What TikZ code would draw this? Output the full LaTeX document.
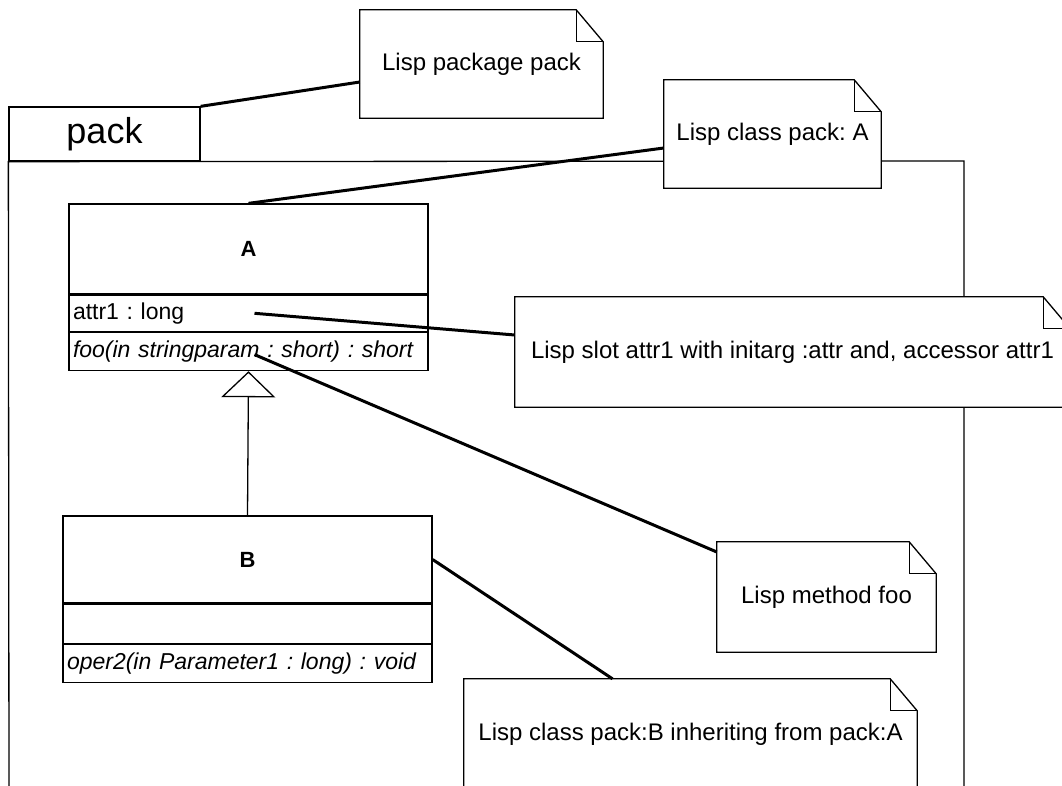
\documentclass[tikz,border=0pt]{standalone}
\usepackage{fontspec}
\setmainfont{Liberation Sans}
\usetikzlibrary{arrows.meta}
\frenchspacing

% outline of a UML note with a folded top-right corner
\newcommand{\dogear}[1]{%
  \draw[boxline] (#1.north west) -- ([xshift=-27pt]#1.north east)
    -- ([yshift=-32pt]#1.north east) -- (#1.south east) -- (#1.south west) -- cycle;
  \draw[boxline] ([xshift=-27pt]#1.north east) |- ([yshift=-32pt]#1.north east);
}

\begin{document}
\begin{tikzpicture}[x=1pt,y=-1pt,
  boxline/.style={line width=1.3pt, line join=miter},
  link/.style={line width=3pt},
  notebox/.style={fill=white, draw=none, inner sep=0pt, font=\fontsize{24}{28}\selectfont},
  classname/.style={draw, boxline, fill=white, inner sep=0pt, font=\bfseries\fontsize{22}{26}\selectfont},
  member/.style={draw, boxline, fill=white, inner xsep=4pt, inner ysep=0pt, align=left, font=\fontsize{23}{26}\selectfont},
  operation/.style={member, font=\itshape\fontsize{23}{26}\selectfont},
  inherit/.style={boxline, -{Triangle[open, length=26pt, width=54pt, line width=1.3pt]}}]

\useasboundingbox (0,0) rectangle (1062,786);
\clip (0,0) rectangle (1062,786);
\fill[white] (0,0) rectangle (1062,786);

% package pack: tab and body
\node[draw, boxline, minimum width=191pt, minimum height=54pt, inner sep=0pt,
      font=\fontsize{36}{40}\selectfont] (pack) at (104.5,134) {pack};
\draw[boxline] (9,800) -- (pack.south west) -- (964,161) -- (964,800);

% class A
\node[classname, minimum width=359pt, minimum height=90pt] (Aname) at (248.5,249) {A};
\node[member, text width=351pt, minimum height=36pt, anchor=north] (Aattr) at (Aname.south) {attr1 : long};
\node[operation, text width=351pt, minimum height=38pt, anchor=north] (Aops) at (Aattr.south) {foo(in stringparam : short) : short};

% class B
\node[classname, minimum width=369pt, minimum height=87pt] (Bname) at (247.5,559.5) {B};
\node[member, text width=361pt, minimum height=39pt, anchor=north] (Battr) at (Bname.south) {};
\node[operation, text width=361pt, minimum height=38pt, anchor=north] (Bops) at (Battr.south) {oper2(in Parameter1 : long) : void};

% generalization B -> A
\draw[inherit] (Bname.north) -- (Aops.south);

% notes
\node[notebox, minimum width=243pt, minimum height=108pt] (pkgnote) at (481.5,64) {Lisp package pack};
\node[notebox, minimum width=217pt, minimum height=108pt] (anote) at (772.5,134) {Lisp class pack: A};
\node[notebox, minimum width=555pt, minimum height=110pt] (slot) at (792.5,352) {Lisp slot attr1 with initarg :attr and, accessor attr1};
\node[notebox, minimum width=219pt, minimum height=110pt] (method) at (826.5,597) {Lisp method foo};
\node[notebox, minimum width=453pt, minimum height=111pt] (bnote) at (690.5,734.5) {Lisp class pack:B inheriting from pack:A};

% note attachments
\draw[link] (pack.north east) -- ([yshift=-18pt]pkgnote.west);
\draw[link] (Aname.north) -- ([yshift=-14pt]anote.west);
\draw[link] ([xshift=6pt]Aattr.center) -- ([yshift=17pt]slot.west);
\draw[link] ([xshift=6pt,yshift=-3pt]Aops.center) -- ([yshift=45pt]method.west);
\draw[link] (Bname.east) -- ([xshift=-78pt]bnote.north);

\dogear{pkgnote}
\dogear{anote}
\dogear{slot}
\dogear{method}
\dogear{bnote}
\end{tikzpicture}
\end{document}
